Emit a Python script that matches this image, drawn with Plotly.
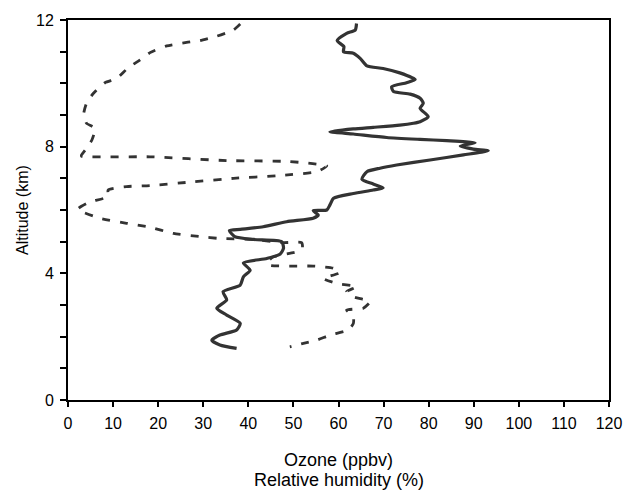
import plotly.graph_objects as go

# Ozone profile (ppbv) vs altitude (km)
ozone_ppbv = [64.0, 63.7, 61.8, 59.7, 61.2, 61.1, 63.3, 64.8, 66.3, 69.9, 73.6, 77.0, 75.1, 71.8,
              72.2, 75.9, 78.1, 78.8, 78.1, 79.9, 78.1, 76.6, 73.6, 67.7, 63.3, 58.1, 63.3, 70.7,
              78.1, 84.0, 90.3, 87.0, 89.9, 93.2, 87.7, 80.3, 72.9, 69.2, 66.3, 65.2, 67.7, 69.9,
              67.7, 63.3, 58.9, 58.1, 57.4, 54.4, 55.5, 54.4, 48.5, 43.3, 38.2, 35.8, 37.0, 41.1,
              47.4, 47.8, 47.0, 44.1, 38.9, 40.4, 38.9, 38.2, 34.4, 35.2, 33.0, 35.2, 38.2, 37.4,
              33.7, 31.9, 33.7, 37.4]
ozone_alt_km = [11.89, 11.68, 11.58, 11.35, 11.16, 11.00, 10.95, 10.79, 10.55, 10.47, 10.33, 10.12, 10.02, 9.89,
                9.74, 9.66, 9.53, 9.37, 9.21, 8.95, 8.79, 8.74, 8.68, 8.61, 8.56, 8.47, 8.40, 8.29,
                8.23, 8.19, 8.12, 8.02, 7.92, 7.87, 7.74, 7.58, 7.42, 7.32, 7.21, 6.97, 6.82, 6.70,
                6.63, 6.52, 6.37, 6.16, 6.00, 5.98, 5.84, 5.74, 5.63, 5.47, 5.39, 5.35, 5.16, 5.07,
                5.00, 4.79, 4.60, 4.47, 4.33, 4.10, 3.89, 3.63, 3.42, 3.16, 2.90, 2.68, 2.42, 2.21,
                2.05, 1.89, 1.74, 1.63]

# Relative humidity (%) vs altitude (km)
rh_pct = [38.2, 36.7, 33.0, 29.3, 26.3, 21.9, 18.2, 16.0, 13.4, 10.8, 8.2, 5.6, 4.1, 3.5,
          4.1, 6.0, 5.3, 3.8, 3.0, 3.0, 18.2, 35.2, 49.2, 57.4, 55.2, 46.3, 36.7, 27.8,
          18.2, 13.0, 8.9, 8.9, 4.9, 2.3, 2.3, 7.1, 13.0, 17.8, 23.4, 29.3, 33.7, 41.1,
          47.8, 51.8, 52.0, 50.7, 45.5, 44.1, 44.8, 50.0, 54.4, 58.9, 60.3, 56.6, 59.6, 64.0,
          61.8, 63.3, 67.0, 65.5, 61.8, 63.3, 63.3, 62.2, 58.1, 55.2, 52.2, 49.2]
rh_alt_km = [11.87, 11.68, 11.49, 11.35, 11.29, 11.18, 10.97, 10.74, 10.50, 10.15, 10.02, 9.68, 9.37, 9.05,
             8.74, 8.58, 8.21, 7.89, 7.74, 7.70, 7.68, 7.56, 7.53, 7.39, 7.21, 7.08, 7.00, 6.89,
             6.77, 6.74, 6.63, 6.42, 6.26, 6.05, 6.00, 5.74, 5.58, 5.47, 5.26, 5.16, 5.10, 5.07,
             4.97, 4.97, 4.80, 4.68, 4.52, 4.33, 4.25, 4.23, 4.23, 4.16, 4.02, 3.84, 3.68, 3.58,
             3.42, 3.26, 3.10, 2.90, 2.84, 2.63, 2.42, 2.21, 2.05, 1.89, 1.79, 1.68]

x_tick_vals = [0, 10, 20, 30, 40, 50, 60, 70, 80, 90, 100, 110, 120]
y_tick_vals = [0, 4, 8, 12]

FONT = "Liberation Sans, Arial, sans-serif"
LINE = "#333333"

fig = go.Figure()
fig.add_trace(go.Scatter(x=rh_pct, y=rh_alt_km, mode="lines", name="Relative humidity",
                         line=dict(color=LINE, width=2.8, dash="8px,10px",
                                   shape="spline", smoothing=0.5)))
fig.add_trace(go.Scatter(x=ozone_ppbv, y=ozone_alt_km, mode="lines", name="Ozone",
                         line=dict(color=LINE, width=3.2, shape="spline", smoothing=0.6)))

fig.update_layout(
    template="none",
    width=625, height=492,
    margin=dict(l=68, r=16, t=20, b=92, pad=0),
    paper_bgcolor="white", plot_bgcolor="white",
    showlegend=False,
    font=dict(family=FONT, size=16, color="black"),
    xaxis=dict(range=[0, 120], tickvals=x_tick_vals, ticks="outside", ticklen=5,
               tickcolor="black", tickwidth=1.5, showline=True, linecolor="black",
               linewidth=1.8, mirror=True, showgrid=False, zeroline=False,
               automargin=False, ticklabelstandoff=3, tickfont=dict(size=16)),
    yaxis=dict(range=[0, 12], tickvals=y_tick_vals, ticks="outside", ticklen=6,
               tickcolor="black", tickwidth=1.5, showline=True, linecolor="black",
               linewidth=1.8, mirror=True, showgrid=False, zeroline=False,
               automargin=False, tickfont=dict(size=16), ticklabelstandoff=3,
               minor=dict(dtick=1, ticks="outside", ticklen=6, tickcolor="black",
                          tickwidth=1.5, showgrid=False)),
    annotations=[
        dict(text="Ozone (ppbv)", xref="paper", yref="paper", x=0.5, y=0,
             yanchor="middle", yshift=-60, showarrow=False, font=dict(size=18)),
        dict(text="Relative humidity (%)", xref="paper", yref="paper", x=0.5, y=0,
             yanchor="middle", yshift=-80, showarrow=False, font=dict(size=18)),
        dict(text="Altitude (km)", xref="paper", yref="paper", x=0, y=0.5,
             xanchor="center", yanchor="middle", xshift=-46, textangle=-90,
             showarrow=False, font=dict(size=16)),
    ],
)

fig.write_html("out.html", config={"displayModeBar": False},
               post_script="document.body.style.margin='0';document.body.style.padding='0';")
